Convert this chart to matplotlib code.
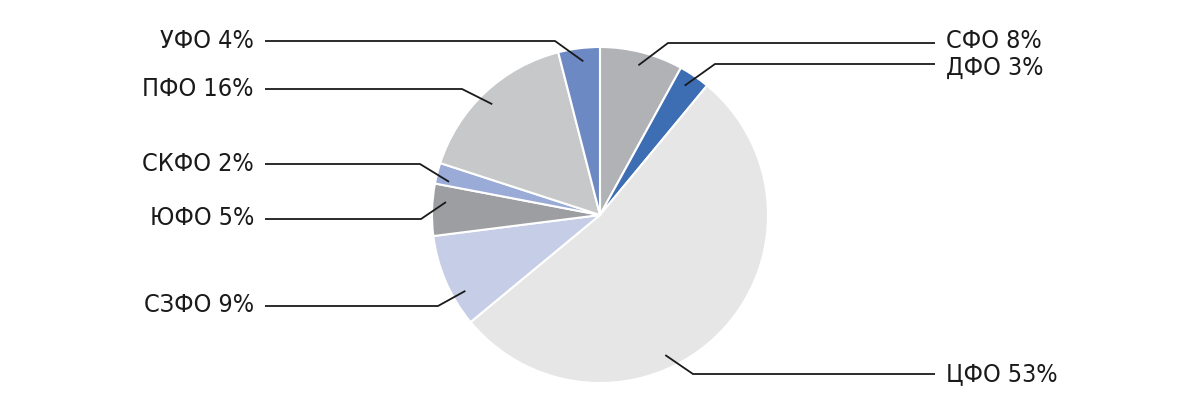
import numpy as np
import matplotlib
matplotlib.use('Agg')
from matplotlib import pyplot as plt

labels = ['СФО', 'ДФО', 'ЦФО', 'СЗФО', 'ЮФО', 'СКФО', 'ПФО', 'УФО']
shares = [8, 3, 53, 9, 5, 2, 16, 4]
colors = ['#b1b2b6', '#3d6db3', '#e6e6e6', '#c5cde7', '#9d9ea2', '#9aabd8', '#c7c8ca', '#6d89c4']

# label text positions in pixels (x, y from top), side
text_pos = [(946, 41, 'left'), (946, 68, 'left'), (946, 374, 'left'), (254, 305, 'right'),
            (254, 218, 'right'), (254, 164, 'right'), (254, 89, 'right'), (254, 41, 'right')]
line_y = [43, 64, 374, 306, 219, 164, 89, 41]
elbow_x = [668, 715, 693, 438, 421, 420, 462, 555]
# leader anchor angle tweak (deg) per slice
anchor_shift = [0, 1, -20, 6, -3, 2, 1, -1]

W, H = 1200, 413
fig = plt.figure(figsize=(12, 4.13), dpi=100)
ax = fig.add_axes([0, 0, 1, 1])

cx, cy, R = 600, H - 215, 168
wedges, _ = ax.pie(shares, colors=colors, startangle=90, counterclock=False,
                   center=(cx, cy), radius=R, frame=True,
                   wedgeprops=dict(edgecolor='white', linewidth=1.5))
ax.set_xlim(0, W)
ax.set_ylim(0, H)
ax.set_aspect('equal')
ax.axis('off')

for i, w in enumerate(wedges):
    mid = (w.theta1 + w.theta2) / 2 + anchor_shift[i]
    px = cx + 0.92 * R * np.cos(np.radians(mid))
    py = cy + 0.92 * R * np.sin(np.radians(mid))
    tx, ty, ha = text_pos[i]
    ly = H - line_y[i]
    start = tx + 11 if ha == 'right' else tx - 11
    ax.plot([px, elbow_x[i], start], [py, ly, ly], color='#1a1a1a', lw=1.3,
            solid_capstyle='butt')
    ax.text(tx, H - ty, f'{labels[i]} {shares[i]}%', ha=ha, va='center',
            fontsize=18, family='DejaVu Sans', fontstretch='condensed', color='#1a1a1a')

fig.savefig('out.png', dpi=100)
